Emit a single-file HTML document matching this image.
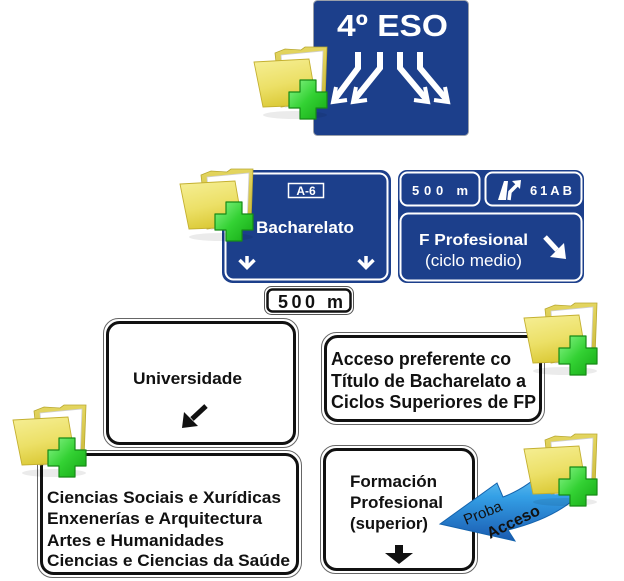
<!DOCTYPE html>
<html><head><meta charset="utf-8"><style>
html,body{margin:0;padding:0;background:#fff;}
svg{display:block;}
text{font-family:"Liberation Sans",Arial,sans-serif;}
</style></head><body>
<svg width="624" height="581" viewBox="0 0 624 581" xmlns="http://www.w3.org/2000/svg">
<defs>
 <linearGradient id="gback" x1="0" y1="0" x2="0" y2="1"><stop offset="0" stop-color="#e4d660"/><stop offset="1" stop-color="#c8b636"/></linearGradient>
 <linearGradient id="gfront" x1="0" y1="0" x2="0.3" y2="1"><stop offset="0" stop-color="#f6ef96"/><stop offset="0.6" stop-color="#ece067"/><stop offset="1" stop-color="#dccb3a"/></linearGradient>
 <linearGradient id="ggreen" x1="0" y1="0" x2="1" y2="1"><stop offset="0" stop-color="#8af58a"/><stop offset="0.5" stop-color="#33d133"/><stop offset="1" stop-color="#14a814"/></linearGradient>
 <linearGradient id="gblue" x1="0" y1="0" x2="0" y2="1"><stop offset="0" stop-color="#9be2fa"/><stop offset="0.5" stop-color="#34a0e6"/><stop offset="1" stop-color="#1a5ab0"/></linearGradient>
 <g id="fold">
  <ellipse cx="40" cy="68" rx="32" ry="4" fill="#000" opacity="0.08"/>
  <path d="M20,6 L30,2 L46,3 L50,0 L72,0 L70,54 L26,60 Z" fill="url(#gback)" stroke="#b8a830" stroke-width="0.8"/>
  <path d="M26,8 L68,4 L66,56 L30,60 Z" fill="#fff" stroke="#cfcfcf" stroke-width="0.8"/>
  <path d="M-1,15 L54,12 L62,58 L8,60 Z" fill="url(#gfront)" stroke="#c4b030" stroke-width="0.9"/>
  <path d="M45,33 H61 V45 H72 V61 H61 V72 H45 V61 H34 V45 H45 Z" fill="url(#ggreen)" stroke="#168a16" stroke-width="1.2" stroke-linejoin="round"/>
 </g>
</defs>

<!-- 4º ESO sign -->
<rect x="313.5" y="0.5" width="155" height="135" rx="4" fill="#1c3f8b" stroke="#9aa0aa" stroke-width="1"/>
<text x="337" y="36" font-size="31" font-weight="bold" fill="#fff" textLength="111" lengthAdjust="spacingAndGlyphs">4º ESO</text>
<g fill="none" stroke="#fff" stroke-width="6" stroke-linejoin="miter">
 <path d="M358,52 V68 L335,99"/>
 <path d="M380,52 V68 L355,99"/>
 <path d="M400,52 V68 L426,99"/>
 <path d="M420,52 V68 L446,99"/>
</g>
<g fill="none" stroke="#fff" stroke-width="4" stroke-linecap="butt">
 <polyline points="336,87 333,102 347,100"/>
 <polyline points="356,87 353,102 367,100"/>
 <polyline points="425,87 428,102 414,100"/>
 <polyline points="445,87 448,102 434,100"/>
</g>

<!-- Bacharelato sign -->
<rect x="222.5" y="170.5" width="168" height="112" rx="10" fill="#1c3f8b" stroke="#1c3f8b"/>
<rect x="225.5" y="173.5" width="162" height="106" rx="8" fill="none" stroke="#fff" stroke-width="2"/>
<rect x="288.5" y="183.5" width="35" height="14" fill="none" stroke="#fff" stroke-width="1.5"/>
<text x="306" y="195" font-size="12" font-weight="bold" fill="#fff" text-anchor="middle">A-6</text>
<text x="256" y="233" font-size="17" font-weight="bold" fill="#fff" textLength="98" lengthAdjust="spacingAndGlyphs">Bacharelato</text>
<g fill="none" stroke="#fff" stroke-width="3.5">
 <path d="M247,256 V267"/><polyline points="239.5,260 247,267.5 254.5,260"/>
 <path d="M366,256 V267"/><polyline points="358.5,260 366,267.5 373.5,260"/>
</g>

<!-- Right blue sign group -->
<rect x="398" y="170" width="186" height="113" rx="9" fill="#1c3f8b"/>
<rect x="400.5" y="172.5" width="79" height="33" rx="7" fill="none" stroke="#fff" stroke-width="2"/>
<rect x="485.5" y="172.5" width="96" height="33" rx="7" fill="none" stroke="#fff" stroke-width="2"/>
<rect x="400.5" y="213.5" width="181" height="67" rx="8" fill="none" stroke="#fff" stroke-width="2"/>
<text x="412" y="195" font-size="13" font-weight="bold" fill="#fff" textLength="56" lengthAdjust="spacing">500 m</text>
<path d="M498,200 L504,181 L508,181 L506,200 Z" fill="#fff"/>
<path d="M509,200 L510,192 L517,185" fill="none" stroke="#fff" stroke-width="3.5"/>
<path d="M512,181 L521,180 L520,189 Z" fill="#fff"/>
<text x="530" y="195" font-size="13" font-weight="bold" fill="#fff" textLength="42" lengthAdjust="spacing">61AB</text>
<text x="419" y="245" font-size="16" font-weight="bold" fill="#fff" textLength="109" lengthAdjust="spacingAndGlyphs">F Profesional</text>
<text x="425" y="266" font-size="17" fill="#fff" textLength="97" lengthAdjust="spacingAndGlyphs">(ciclo medio)</text>
<path d="M545,237 L557,250" stroke="#fff" stroke-width="5"/>
<path d="M566,259 L550,257 L564,243 Z" fill="#fff"/>

<!-- 500 m white -->
<rect x="264.5" y="286.5" width="89" height="28" rx="7" fill="#fff" stroke="#555" stroke-width="1"/>
<rect x="267.5" y="289.5" width="83" height="22" rx="5" fill="none" stroke="#111" stroke-width="2.5"/>
<text x="278" y="308" font-size="18" font-weight="bold" fill="#111" textLength="65" lengthAdjust="spacing">500 m</text>

<!-- Universidade -->
<rect x="103.5" y="318.5" width="195" height="129" rx="15" fill="#fff" stroke="#666" stroke-width="1"/>
<rect x="107.5" y="322.5" width="187" height="121" rx="12" fill="none" stroke="#111" stroke-width="3"/>
<text x="133" y="384" font-size="17" font-weight="bold" fill="#111" textLength="109" lengthAdjust="spacingAndGlyphs">Universidade</text>
<path d="M206,406 L192,419" stroke="#111" stroke-width="5"/>
<path d="M182,428 L184,412 L198,426 Z" fill="#111"/>

<!-- Acceso -->
<rect x="321.5" y="332.5" width="223" height="92" rx="15" fill="#fff" stroke="#666" stroke-width="1"/>
<rect x="325.5" y="336.5" width="215" height="84" rx="12" fill="none" stroke="#111" stroke-width="3"/>
<text x="331" y="365" font-size="18" font-weight="bold" fill="#111" textLength="180" lengthAdjust="spacingAndGlyphs">Acceso preferente co</text>
<text x="331" y="387" font-size="18" font-weight="bold" fill="#111" textLength="195" lengthAdjust="spacingAndGlyphs">Título de Bacharelato a</text>
<text x="331" y="408" font-size="18" font-weight="bold" fill="#111" textLength="205" lengthAdjust="spacingAndGlyphs">Ciclos Superiores de FP</text>

<!-- Ciencias -->
<rect x="37.5" y="450.5" width="264" height="127" rx="15" fill="#fff" stroke="#666" stroke-width="1"/>
<rect x="41.5" y="454.5" width="256" height="119" rx="12" fill="none" stroke="#111" stroke-width="3"/>
<text x="47" y="503" font-size="17" font-weight="bold" fill="#111" textLength="234" lengthAdjust="spacingAndGlyphs">Ciencias Sociais e Xurídicas</text>
<text x="47" y="524" font-size="17" font-weight="bold" fill="#111" textLength="215" lengthAdjust="spacingAndGlyphs">Enxenerías e Arquitectura</text>
<text x="47" y="546" font-size="17" font-weight="bold" fill="#111" textLength="177" lengthAdjust="spacingAndGlyphs">Artes e Humanidades</text>
<text x="47" y="566" font-size="17" font-weight="bold" fill="#111" textLength="243" lengthAdjust="spacingAndGlyphs">Ciencias e Ciencias da Saúde</text>

<!-- Formación -->
<rect x="320.5" y="445.5" width="157" height="128" rx="15" fill="#fff" stroke="#666" stroke-width="1"/>
<rect x="324.5" y="449.5" width="149" height="120" rx="12" fill="none" stroke="#111" stroke-width="3"/>
<text x="350" y="487" font-size="17" font-weight="bold" fill="#111" textLength="87" lengthAdjust="spacingAndGlyphs">Formación</text>
<text x="350" y="508" font-size="17" font-weight="bold" fill="#111" textLength="93" lengthAdjust="spacingAndGlyphs">Profesional</text>
<text x="350" y="529" font-size="17" font-weight="bold" fill="#111" textLength="78" lengthAdjust="spacingAndGlyphs">(superior)</text>
<rect x="395" y="545" width="8" height="9" fill="#111"/>
<path d="M385,553 L413,553 L399,564 Z" fill="#111"/>

<!-- Proba Acceso arrow -->
<path d="M440,524 L497,483 L503,497 Q527,488 547,468 L566,452 L580,494 Q556,518 508,530 L515,541 Z" fill="url(#gblue)" stroke="#1463ad" stroke-width="1"/>
<text transform="translate(466,525) rotate(-22)" font-size="15" fill="#111">Proba</text>
<text transform="translate(490,539) rotate(-26)" font-size="16" font-weight="bold" fill="#111">Acceso</text>

<!-- Folders -->
<use href="#fold" x="255" y="47"/>
<use href="#fold" x="181" y="169"/>
<use href="#fold" x="525" y="303"/>
<use href="#fold" x="14" y="405"/>
<use href="#fold" x="525" y="434"/>
</svg>
</body></html>
